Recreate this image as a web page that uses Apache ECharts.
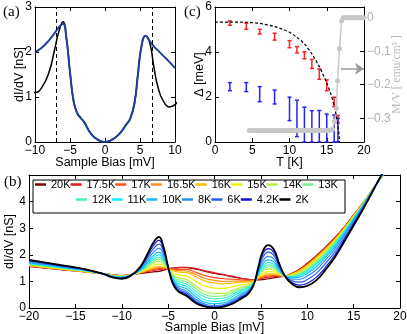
<!DOCTYPE html>
<html>
<head>
<meta charset="utf-8">
<title>dI/dV vs temperature</title>
<script src="https://cdn.jsdelivr.net/npm/echarts/dist/echarts.min.js"></script>
<style>
  html, body { margin: 0; padding: 0; background: #fff; }
  #chart { width: 407px; height: 334px; }
</style>
</head>
<body>
<div id="chart"></div>
<script>
// ---- data ----

// panel (b): bias grid shared by all temperatures
const BIAS = [-20, -18, -16, -14, -12, -11, -10, -9, -8, -7.2, -6.6, -6, -5.5, -5, -4.5, -4, -3.4, -3, -2, -1, 0, 1, 2, 3, 3.6, 4.2, 4.7, 5.2, 5.8, 6.4, 7, 7.6, 8.3, 9.2, 10, 11, 12, 13, 14, 15, 16, 17, 18, 19, 20];

const TEMPS = ['20K', '17.5K', '17K', '16.5K', '16K', '15K', '14K', '13K', '12K', '11K', '10K', '8K', '6K', '4.2K', '2K'];

const DIDV_20K = [1.56, 1.49, 1.42, 1.36, 1.29, 1.25, 1.22, 1.26, 1.30, 1.33, 1.36, 1.38, 1.42, 1.47, 1.50, 1.51, 1.52, 1.52, 1.46, 1.38, 1.30, 1.24, 1.17, 1.10, 1.08, 1.06, 1.06, 1.07, 1.10, 1.13, 1.17, 1.20, 1.30, 1.47, 1.68, 1.98, 2.30, 2.65, 3.05, 3.50, 3.95, 4.43, 4.92, 5.40, 5.90];
const DIDV_17_5K = [1.57, 1.50, 1.43, 1.37, 1.29, 1.24, 1.21, 1.26, 1.31, 1.37, 1.41, 1.44, 1.46, 1.47, 1.50, 1.52, 1.53, 1.53, 1.48, 1.40, 1.32, 1.26, 1.19, 1.11, 1.08, 1.06, 1.08, 1.12, 1.16, 1.18, 1.19, 1.20, 1.29, 1.45, 1.65, 1.95, 2.27, 2.63, 3.03, 3.49, 3.94, 4.43, 4.92, 5.41, 5.91];
const DIDV_17K = [1.58, 1.51, 1.43, 1.37, 1.29, 1.24, 1.21, 1.26, 1.32, 1.39, 1.45, 1.49, 1.50, 1.48, 1.46, 1.45, 1.45, 1.45, 1.34, 1.22, 1.14, 1.10, 1.08, 1.05, 1.04, 1.05, 1.10, 1.16, 1.21, 1.22, 1.21, 1.20, 1.28, 1.44, 1.64, 1.93, 2.26, 2.61, 3.02, 3.48, 3.94, 4.43, 4.92, 5.41, 5.92];
const DIDV_16_5K = [1.59, 1.51, 1.44, 1.37, 1.29, 1.24, 1.21, 1.26, 1.33, 1.41, 1.48, 1.52, 1.52, 1.48, 1.43, 1.41, 1.40, 1.39, 1.26, 1.11, 1.04, 1.00, 1.01, 1.01, 1.01, 1.04, 1.11, 1.19, 1.24, 1.25, 1.22, 1.20, 1.27, 1.42, 1.62, 1.92, 2.24, 2.60, 3.01, 3.47, 3.93, 4.42, 4.93, 5.41, 5.92];
const DIDV_16K = [1.60, 1.52, 1.44, 1.37, 1.29, 1.24, 1.20, 1.25, 1.34, 1.43, 1.51, 1.56, 1.54, 1.48, 1.40, 1.36, 1.34, 1.33, 1.17, 1.01, 0.94, 0.91, 0.94, 0.97, 0.98, 1.02, 1.12, 1.22, 1.28, 1.28, 1.24, 1.20, 1.27, 1.41, 1.60, 1.90, 2.22, 2.58, 3.00, 3.46, 3.93, 4.42, 4.93, 5.42, 5.93];
const DIDV_15K = [1.61, 1.53, 1.45, 1.38, 1.29, 1.23, 1.20, 1.25, 1.35, 1.48, 1.59, 1.65, 1.61, 1.49, 1.33, 1.25, 1.22, 1.20, 1.00, 0.82, 0.75, 0.74, 0.81, 0.88, 0.91, 1.00, 1.15, 1.29, 1.37, 1.36, 1.27, 1.20, 1.25, 1.37, 1.56, 1.85, 2.18, 2.55, 2.97, 3.44, 3.92, 4.42, 4.93, 5.43, 5.94];
const DIDV_14K = [1.63, 1.55, 1.47, 1.39, 1.29, 1.22, 1.19, 1.25, 1.37, 1.54, 1.68, 1.75, 1.68, 1.49, 1.26, 1.15, 1.10, 1.07, 0.82, 0.61, 0.55, 0.55, 0.67, 0.80, 0.85, 0.97, 1.19, 1.38, 1.47, 1.44, 1.31, 1.20, 1.22, 1.33, 1.51, 1.79, 2.13, 2.50, 2.94, 3.42, 3.90, 4.41, 4.94, 5.44, 5.96];
const DIDV_13K = [1.65, 1.57, 1.48, 1.40, 1.29, 1.21, 1.18, 1.25, 1.39, 1.59, 1.75, 1.84, 1.74, 1.50, 1.21, 1.08, 1.02, 0.99, 0.72, 0.50, 0.44, 0.46, 0.59, 0.74, 0.80, 0.96, 1.22, 1.45, 1.55, 1.52, 1.34, 1.20, 1.20, 1.29, 1.46, 1.74, 2.08, 2.46, 2.91, 3.40, 3.89, 4.41, 4.94, 5.45, 5.98];
const DIDV_12K = [1.66, 1.58, 1.49, 1.40, 1.29, 1.21, 1.17, 1.24, 1.40, 1.63, 1.81, 1.91, 1.78, 1.50, 1.16, 1.01, 0.94, 0.90, 0.62, 0.41, 0.35, 0.37, 0.52, 0.68, 0.76, 0.94, 1.24, 1.50, 1.62, 1.57, 1.37, 1.20, 1.18, 1.26, 1.42, 1.69, 2.04, 2.42, 2.88, 3.38, 3.87, 4.41, 4.95, 5.46, 5.99];
const DIDV_11K = [1.68, 1.59, 1.50, 1.41, 1.29, 1.20, 1.16, 1.24, 1.42, 1.68, 1.88, 2.00, 1.84, 1.51, 1.12, 0.94, 0.86, 0.81, 0.52, 0.30, 0.25, 0.28, 0.44, 0.63, 0.71, 0.92, 1.27, 1.57, 1.71, 1.64, 1.40, 1.20, 1.16, 1.22, 1.37, 1.64, 1.99, 2.38, 2.85, 3.35, 3.86, 4.40, 4.95, 5.47, 6.01];
const DIDV_10K = [1.70, 1.61, 1.51, 1.42, 1.28, 1.19, 1.15, 1.24, 1.44, 1.73, 1.97, 2.10, 1.91, 1.52, 1.07, 0.87, 0.77, 0.72, 0.42, 0.21, 0.16, 0.19, 0.36, 0.56, 0.66, 0.90, 1.31, 1.66, 1.81, 1.73, 1.44, 1.20, 1.13, 1.16, 1.30, 1.56, 1.92, 2.32, 2.80, 3.32, 3.84, 4.39, 4.96, 5.49, 6.04];
const DIDV_8K = [1.73, 1.63, 1.53, 1.43, 1.28, 1.18, 1.14, 1.23, 1.47, 1.81, 2.09, 2.24, 2.01, 1.52, 1.02, 0.80, 0.69, 0.63, 0.33, 0.14, 0.09, 0.13, 0.29, 0.50, 0.62, 0.89, 1.36, 1.77, 1.94, 1.85, 1.49, 1.20, 1.08, 1.08, 1.20, 1.45, 1.82, 2.23, 2.74, 3.27, 3.81, 4.38, 4.97, 5.51, 6.07];
const DIDV_6K = [1.76, 1.66, 1.55, 1.44, 1.28, 1.17, 1.13, 1.23, 1.50, 1.90, 2.22, 2.40, 2.12, 1.53, 0.98, 0.74, 0.62, 0.56, 0.26, 0.09, 0.04, 0.09, 0.24, 0.45, 0.58, 0.87, 1.41, 1.90, 2.10, 1.98, 1.55, 1.20, 1.03, 0.97, 1.07, 1.31, 1.69, 2.12, 2.65, 3.21, 3.77, 4.37, 4.98, 5.54, 6.12];
const DIDV_4_2K = [1.79, 1.68, 1.56, 1.45, 1.28, 1.16, 1.11, 1.22, 1.53, 1.98, 2.34, 2.54, 2.21, 1.54, 0.95, 0.69, 0.57, 0.50, 0.22, 0.07, 0.02, 0.07, 0.20, 0.42, 0.55, 0.86, 1.46, 2.02, 2.23, 2.09, 1.60, 1.20, 0.97, 0.86, 0.93, 1.16, 1.55, 2.01, 2.57, 3.15, 3.73, 4.36, 4.99, 5.58, 6.16];
const DIDV_2K = [1.81, 1.70, 1.58, 1.46, 1.28, 1.15, 1.10, 1.22, 1.55, 2.05, 2.45, 2.67, 2.30, 1.55, 0.92, 0.65, 0.52, 0.45, 0.18, 0.05, 0.00, 0.05, 0.17, 0.38, 0.52, 0.85, 1.50, 2.12, 2.36, 2.20, 1.65, 1.20, 0.92, 0.78, 0.83, 1.05, 1.45, 1.92, 2.50, 3.10, 3.70, 4.35, 5.00, 5.60, 6.20];

const DIDV_ALL = [DIDV_20K, DIDV_17_5K, DIDV_17K, DIDV_16_5K, DIDV_16K, DIDV_15K, DIDV_14K, DIDV_13K, DIDV_12K, DIDV_11K, DIDV_10K, DIDV_8K, DIDV_6K, DIDV_4_2K, DIDV_2K];

// panel (a): 2K spectrum (reuses DIDV_2K) and the fit
const BIAS_FIT = [-10, -9, -8, -7.2, -6.6, -6, -5.5, -5, -4.5, -4, -3.4, -3, -2, -1, 0, 1, 2, 3, 3.6, 4.2, 4.7, 5.2, 5.8, 6.4, 7, 7.6, 8.3, 9.2, 10];
const DIDV_FIT = [1.99, 2.10, 2.26, 2.42, 2.55, 2.63, 2.28, 1.55, 0.92, 0.65, 0.52, 0.45, 0.18, 0.05, 0.00, 0.05, 0.17, 0.38, 0.52, 0.85, 1.50, 2.12, 2.36, 2.24, 2.12, 2.03, 1.92, 1.78, 1.64];
const GAP_MARKS = [-6.9, 6.7];

// panel (c): gap vs temperature
const T_GAP = [2, 4.2, 6, 8, 10, 11, 12, 13, 14, 15, 16, 16.5];
const GAP1_LO = [5.19, 5.01, 4.80, 4.53, 4.19, 3.96, 3.70, 3.27, 2.79, 2.28, 1.58, 0.85];
const GAP1_HI = [5.38, 5.28, 5.01, 4.83, 4.50, 4.24, 4.01, 3.67, 3.25, 2.76, 1.99, 1.18];
const GAP2_LO = [2.28, 2.24, 1.79, 1.69, 0.95, 0.24, 0, 0, 0, 0, 0, 0];
const GAP2_HI = [2.64, 2.64, 2.46, 2.31, 1.99, 1.86, 1.55, 1.39, 1.40, 1.24, 1.20, 1.05];

const T_BCS = [0, 2, 4, 6, 8, 9, 10, 11, 12, 13, 14, 14.5, 15, 15.5, 16, 16.3, 16.5, 16.65, 16.7];
const GAP_BCS = [5.33, 5.33, 5.32, 5.27, 5.13, 5.02, 4.88, 4.65, 4.36, 3.92, 3.35, 3.00, 2.62, 2.18, 1.60, 1.12, 0.72, 0.30, 0];

const T_MAG = [4.6, 4.8, 5.0, 5.2, 5.4, 5.6, 5.8, 6.0, 6.2, 6.4, 6.6, 6.8, 7.0, 7.2, 7.4, 7.6, 7.8, 8.0, 8.2, 8.4, 8.6, 8.8, 9.0, 9.2, 9.4, 9.6, 9.8, 10.0, 10.2, 10.4, 10.6, 10.8, 11.0, 11.2, 11.4, 11.6, 11.8, 12.0, 12.2, 12.4, 12.6, 12.8, 13.0, 13.2, 13.4, 13.6, 13.8, 14.0, 14.2, 14.4, 14.6, 14.8, 15.0, 15.2, 15.4, 15.6, 15.8, 16.05, 16.3, 16.45, 16.7, 17.0, 17.2, 17.4, 17.6, 17.8, 18.0, 18.2, 18.4, 18.6, 18.8, 19.0, 19.2, 19.4, 19.6, 19.8, 20.0];
const M_MAG = [-0.337, -0.337, -0.337, -0.337, -0.337, -0.337, -0.337, -0.337, -0.337, -0.337, -0.337, -0.337, -0.337, -0.337, -0.337, -0.337, -0.337, -0.337, -0.337, -0.337, -0.337, -0.337, -0.337, -0.337, -0.337, -0.337, -0.337, -0.337, -0.337, -0.337, -0.337, -0.337, -0.337, -0.337, -0.337, -0.337, -0.337, -0.337, -0.337, -0.337, -0.337, -0.337, -0.337, -0.337, -0.337, -0.337, -0.337, -0.337, -0.337, -0.337, -0.337, -0.337, -0.337, -0.337, -0.336, -0.335, -0.333, -0.31, -0.27, -0.188, -0.092, -0.01, 0, 0, 0, 0, 0, 0, 0, 0, 0, 0, 0, 0, 0, 0, 0];
const ARROW_T = [16.9, 20];
const ARROW_M = -0.152;

// ---- styles ----
const TEMP_COLORS = ['#800000', '#e3191c', '#ff4f1f', '#ff8c1a', '#ffbb00', '#eeee00', '#b4f03c', '#78f08c', '#4cf0c0', '#14ecf0', '#18bcf8', '#2f8cf0', '#2060f0', '#1010e0', '#000000'];
const FONT = 'Liberation Sans';
const SERIF = 'Liberation Serif';

function minus(v) {
    return String(v).replace('-', '\u2212');
}

/**
 * Axis with MATLAB-like box look: inward ticks, black line
 */
function boxAxis(opts, labelOpts) {
    return Object.assign({
        type: 'value',
        nameLocation: 'middle',
        nameMoveOverlap: false,
        nameTextStyle: { fontFamily: FONT, fontSize: 12.5, color: '#000' },
        axisLine: { show: true, onZero: false, lineStyle: { color: '#000', width: 1 } },
        axisTick: { show: true, inside: true, length: 4, lineStyle: { color: '#000', width: 1 } },
        splitLine: { show: false },
        axisLabel: Object.assign({
            show: true, margin: 3, fontFamily: FONT, fontSize: 12, color: '#000', formatter: minus
        }, labelOpts || {})
    }, opts);
}

function mirrorAxis(opts) {
    return boxAxis(opts, { show: false });
}

function errorBars(name, lo, hi, color) {
    return {
        name: name,
        type: 'custom',
        xAxisIndex: 4,
        yAxisIndex: 4,
        silent: true,
        data: T_GAP.map((t, i) => [t, lo[i], hi[i]]),
        renderItem: function(params, api) {
            const p1 = api.coord([api.value(0), api.value(1)]);
            const p2 = api.coord([api.value(0), api.value(2)]);
            const cap = 2;
            const st = { stroke: color, lineWidth: 1.5 };
            return {
                type: 'group',
                children: [
                    { type: 'line', shape: { x1: p1[0], y1: p1[1], x2: p2[0], y2: p2[1] }, style: st },
                    { type: 'line', shape: { x1: p1[0] - cap, y1: p1[1], x2: p1[0] + cap, y2: p1[1] }, style: st },
                    { type: 'line', shape: { x1: p2[0] - cap, y1: p2[1], x2: p2[0] + cap, y2: p2[1] }, style: st }
                ]
            };
        }
    };
}

const chart = echarts.init(document.getElementById('chart'), null, { renderer: 'canvas' });

const tempSeries = TEMPS.map((t, k) => ({
    name: t,
    type: 'line',
    xAxisIndex: 2,
    yAxisIndex: 2,
    color: TEMP_COLORS[k],
    data: BIAS.map((x, i) => [x, DIDV_ALL[k][i]]),
    smooth: 0.5,
    showSymbol: false,
    clip: true,
    lineStyle: { width: t === '2K' ? 1.8 : 1.2, color: TEMP_COLORS[k] }
}));

const legendText = { fontFamily: FONT, fontSize: 11, color: '#000' };

const option = {
    animation: false,
    backgroundColor: '#fff',
    grid: [
        { left: 35, top: 7, width: 140, height: 135, outerBoundsMode: 'none' },
        { left: 29, top: 175, width: 371, height: 133, outerBoundsMode: 'none' },
        { left: 215, top: 7, width: 149, height: 135, outerBoundsMode: 'none' }
    ],
    xAxis: [
        boxAxis({ gridIndex: 0, min: -10, max: 10, interval: 5, name: 'Sample Bias [mV]', nameGap: 14 }),
        mirrorAxis({ gridIndex: 0, position: 'top', min: -10, max: 10, interval: 5 }),
        boxAxis({ gridIndex: 1, min: -20, max: 20, interval: 5, name: 'Sample Bias [mV]', nameGap: 13 }),
        mirrorAxis({ gridIndex: 1, position: 'top', min: -20, max: 20, interval: 5 }),
        boxAxis({ gridIndex: 2, min: 0, max: 20, interval: 5, name: 'T [K]', nameGap: 14 }),
        mirrorAxis({ gridIndex: 2, position: 'top', min: 0, max: 20, interval: 5 })
    ],
    yAxis: [
        boxAxis({ gridIndex: 0, min: 0, max: 3, interval: 1, name: 'dI/dV [nS]', nameGap: 9 }),
        mirrorAxis({ gridIndex: 0, position: 'right', min: 0, max: 3, interval: 1 }),
        boxAxis({ gridIndex: 1, min: 0, max: 5, interval: 1, name: 'dI/dV [nS]', nameGap: 13 }, { showMaxLabel: false }),
        mirrorAxis({ gridIndex: 1, position: 'right', min: 0, max: 5, interval: 1 }),
        boxAxis({ gridIndex: 2, min: 0, max: 6, interval: 2, name: '\u0394 [meV]', nameGap: 9 }),
        boxAxis({
            gridIndex: 2, position: 'right', min: -0.371, max: 0.032, splitNumber: 4,
            name: 'M/V [ emu/cm\u00b3 ]', nameGap: 27,
            nameTextStyle: { fontFamily: SERIF, fontSize: 11.5, color: '#b8b8b8' }
        }, {
            color: '#b0b0b0',
            formatter: function(v) {
                const r = Math.round(v * 10);
                return Math.abs(v * 10 - r) < 1e-6 ? minus(r / 10) : '';
            }
        })
    ],
    legend: [
        {
            data: TEMPS.slice(0, 8), left: 35, top: 179, padding: 0,
            icon: 'rect', itemWidth: 11, itemHeight: 2.5, itemGap: 0,
            textStyle: legendText, selectedMode: false
        },
        {
            data: TEMPS.slice(8), left: 76, top: 194, padding: 0,
            icon: 'rect', itemWidth: 11, itemHeight: 2.5, itemGap: 0,
            textStyle: legendText, selectedMode: false
        }
    ],
    graphic: [
        { type: 'text', left: 3, top: 5, style: { text: '(a)', font: '15px ' + SERIF, fill: '#000' } },
        { type: 'text', left: 184, top: 5, style: { text: '(c)', font: '15px ' + SERIF, fill: '#000' } },
        { type: 'text', left: 4, top: 175, style: { text: '(b)', font: '15px ' + SERIF, fill: '#000' } },
        {
            type: 'rect', z: 1,
            shape: { x: 33, y: 180, width: 312, height: 33 },
            style: { fill: 'none', stroke: '#000', lineWidth: 1 }
        }
    ],
    series: [
        // panel (a)
        {
            name: 'a-2K',
            type: 'line',
            xAxisIndex: 0,
            yAxisIndex: 0,
            data: BIAS.map((x, i) => [x, DIDV_2K[i]]),
            smooth: 0.5,
            showSymbol: false,
            clip: true,
            lineStyle: { color: '#000', width: 1.5 }
        },
        {
            name: 'a-fit',
            type: 'line',
            xAxisIndex: 0,
            yAxisIndex: 0,
            data: BIAS_FIT.map((x, i) => [x, DIDV_FIT[i]]),
            smooth: 0.5,
            showSymbol: false,
            clip: true,
            lineStyle: { color: '#213f9c', width: 2 },
            markLine: {
                silent: true,
                symbol: 'none',
                label: { show: false },
                lineStyle: { color: '#000', width: 1, type: [4, 3] },
                data: GAP_MARKS.map(x => ({ xAxis: x }))
            }
        },
        // panel (b)
        ...tempSeries,
        // panel (c)
        {
            name: 'M/V',
            type: 'line',
            xAxisIndex: 4,
            yAxisIndex: 5,
            data: T_MAG.map((t, i) => [t, M_MAG[i]]),
            symbol: 'circle',
            symbolSize: 5,
            itemStyle: { color: '#c8c8c8' },
            lineStyle: { color: '#c8c8c8', width: 1.5 },
            markLine: {
                silent: true,
                symbol: ['none', 'arrow'],
                symbolSize: 9,
                label: { show: false },
                lineStyle: { color: '#9a9a9a', width: 1.5, type: 'solid' },
                data: [[{ coord: [ARROW_T[0], ARROW_M] }, { coord: [ARROW_T[1], ARROW_M] }]]
            }
        },
        errorBars('gap1', GAP1_LO, GAP1_HI, '#ff2020'),
        errorBars('gap2', GAP2_LO, GAP2_HI, '#2222ff'),
        {
            name: 'bcs',
            type: 'line',
            xAxisIndex: 4,
            yAxisIndex: 4,
            data: T_BCS.map((t, i) => [t, GAP_BCS[i]]),
            smooth: 0.3,
            showSymbol: false,
            lineStyle: { color: '#000', width: 1.2, type: [3, 2] }
        }
    ]
};

chart.setOption(option);
</script>
</body>
</html>
